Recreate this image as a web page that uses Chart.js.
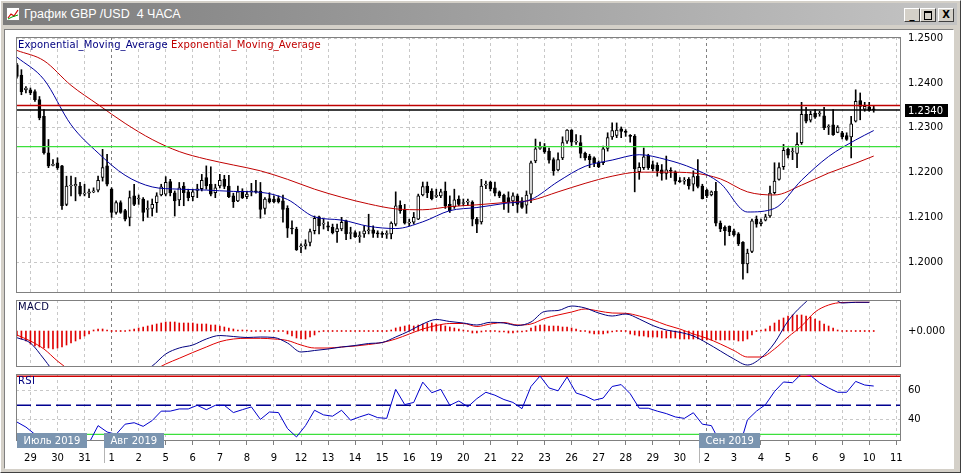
<!DOCTYPE html>
<html>
<head>
<meta charset="utf-8">
<script src="https://cdn.jsdelivr.net/npm/chart.js@4.4.1/dist/chart.umd.min.js"></script>
<style>
  html, body { margin: 0; padding: 0; }
  body { width: 961px; height: 473px; background: #d4d0c8; position: relative; overflow: hidden; font-family: "DejaVu Sans", sans-serif; }
  #win { position: absolute; left: 0; top: 0; width: 959px; height: 471px; border: 1px solid; border-color: #fff #404040 #404040 #fff; }
  #titlebar { position: absolute; left: 3px; top: 3px; width: 954px; height: 22px; background: linear-gradient(to right, #7c7c7c, #c4c4c4); }
  #icon { position: absolute; left: 3px; top: 4px; width: 14px; height: 14px; }
  #ttl { position: absolute; left: 21px; top: 4px; color: #fff; font: 12.5px "Liberation Sans Narrow", "Liberation Sans", sans-serif; line-height: 15px; white-space: pre; }
  .btn { position: absolute; top: 8px; width: 14px; height: 12px; background: #d4d0c8; border: 1px solid; border-color: #fff #404040 #404040 #fff; color: #000; font: bold 10px "DejaVu Sans", sans-serif; line-height: 12px; text-align: center; }
  #client { position: absolute; left: 4px; top: 29px; width: 948px; height: 438px; background: #fff; border: 1px solid; border-color: #808080 #fff #fff #808080; }
  canvas { position: absolute; }
  .lbl { position: absolute; font: 10px "DejaVu Sans", sans-serif; line-height: 12px; white-space: pre; }
</style>
</head>
<body>
<div id="win"></div>
<div id="titlebar">
  <svg id="icon" viewBox="0 0 14 14"><rect x="0.5" y="0.5" width="13" height="13" fill="#fff" stroke="#808080"/><polyline points="2,11 5,7 8,9 12,3" fill="none" stroke="#d00000" stroke-width="1.2"/><polyline points="2,12 6,10 12,8" fill="none" stroke="#00a000"/></svg>
  <span id="ttl">График GBP /USD  4 ЧАСА</span>
</div>
<div class="btn" style="left:904px">_</div>
<div class="btn" style="left:920px"><div style="position:absolute;left:3px;top:2px;width:6px;height:6px;border:1px solid #000;border-top-width:2px"></div></div>
<div class="btn" style="left:938px">X</div>
<div id="client"></div>

<canvas id="mainChart" width="947" height="266" style="left:10px;top:31px"></canvas>
<canvas id="macdChart" width="947" height="75" style="left:10px;top:296px"></canvas>
<canvas id="rsiChart" width="947" height="97" style="left:10px;top:371px"></canvas>

<div class="lbl" style="left:18px;top:39px;letter-spacing:0.13px"><span style="color:#000080">Exponential_Moving_Average</span> <span style="color:#c00000">Exponential_Moving_Average</span></div>
<div class="lbl" style="left:18px;top:301px;color:#000040;letter-spacing:0.3px">MACD</div>
<div class="lbl" style="left:18px;top:375px;color:#000080;letter-spacing:0.3px">RSI</div>

<script>
// 4-hour bars, index 0 = last bars of Jul 26, index 3 = Jul 29 00:00
const dayLabels = ['29','30','31','1','2','5','6','7','8','9','12','13','14','15','16','19','20','21','22','23','26','27','28','29','30','2','3','4','5','6','9','10','11'];
const dayStarts = [3,9,15,21,27,33,39,45,51,57,63,69,75,81,87,93,99,105,111,117,123,129,135,141,147,153,159,165,171,177,183,189,195];
const monthStarts = [21, 153];
const xMin = -0.2, xMax = 196.05;
const monthLabels = ['Июль 2019', 'Авг 2019', 'Сен 2019'];
const monthBars = [xMin, 21, 153];

const opens = [
  1.2441,1.2418,1.2385,1.2385,1.2381,1.2363,1.2326,1.2244,1.2216,1.2222,
  1.2215,1.2129,1.2170,1.2170,1.2170,1.2152,1.2154,1.2157,1.2161,1.2189,
  1.2215,1.2163,1.2111,1.2133,1.2115,1.2100,1.2148,1.2141,1.2141,1.2118,
  1.2120,1.2133,1.2150,1.2152,1.2180,1.2155,1.2139,1.2170,1.2157,1.2146,
  1.2160,1.2164,1.2189,1.2174,1.2155,1.2170,1.2185,1.2170,1.2148,1.2137,
  1.2159,1.2146,1.2157,1.2159,1.2159,1.2120,1.2142,1.2141,1.2142,1.2137,
  1.2120,1.2076,1.2074,1.2034,1.2036,1.2044,1.2070,1.2101,1.2085,1.2081,
  1.2078,1.2068,1.2074,1.2092,1.2064,1.2066,1.2057,1.2063,1.2070,1.2072,
  1.2064,1.2063,1.2062,1.2063,1.2085,1.2127,1.2117,1.2087,1.2089,1.2096,
  1.2150,1.2170,1.2159,1.2147,1.2148,1.2159,1.2129,1.2124,1.2141,1.2131,
  1.2134,1.2134,1.2096,1.2090,1.2172,1.2178,1.2166,1.2157,1.2150,1.2144,
  1.2137,1.2148,1.2137,1.2127,1.2152,1.2226,1.2254,1.2259,1.2248,1.2229,
  1.2206,1.2233,1.2270,1.2295,1.2268,1.2267,1.2243,1.2237,1.2233,1.2222,
  1.2222,1.2254,1.2280,1.2283,1.2298,1.2292,1.2283,1.2281,1.2202,1.2211,
  1.2238,1.2218,1.2216,1.2206,1.2198,1.2205,1.2202,1.2181,1.2181,1.2185,
  1.2174,1.2192,1.2170,1.2161,1.2150,1.2158,1.2087,1.2078,1.2080,1.2070,
  1.2063,1.2044,1.1996,1.2024,1.2096,1.2086,1.2094,1.2103,1.2155,1.2185,
  1.2213,1.2252,1.2246,1.2243,1.2267,1.2330,1.2317,1.2333,1.2331,1.2327,
  1.2302,1.2307,1.2290,1.2289,1.2283,1.2280,1.2315,1.2361,1.2342,1.2347,
  1.2341
];
const highs = [
  1.2444,1.2430,1.2392,1.2389,1.2385,1.2370,1.2341,1.2274,1.2229,1.2233,
  1.2216,1.2192,1.2192,1.2189,1.2178,1.2174,1.2163,1.2166,1.2192,1.2252,
  1.2241,1.2166,1.2137,1.2137,1.2118,1.2159,1.2174,1.2150,1.2144,1.2137,
  1.2141,1.2155,1.2174,1.2191,1.2185,1.2159,1.2178,1.2178,1.2163,1.2163,
  1.2174,1.2196,1.2215,1.2213,1.2174,1.2196,1.2194,1.2194,1.2154,1.2170,
  1.2164,1.2159,1.2176,1.2183,1.2178,1.2144,1.2155,1.2148,1.2148,1.2150,
  1.2126,1.2092,1.2078,1.2041,1.2050,1.2074,1.2103,1.2103,1.2096,1.2090,
  1.2085,1.2085,1.2100,1.2094,1.2078,1.2070,1.2068,1.2081,1.2107,1.2081,
  1.2070,1.2068,1.2070,1.2090,1.2157,1.2137,1.2129,1.2096,1.2111,1.2152,
  1.2179,1.2179,1.2164,1.2163,1.2163,1.2179,1.2148,1.2163,1.2148,1.2141,
  1.2141,1.2137,1.2100,1.2185,1.2181,1.2181,1.2179,1.2159,1.2152,1.2157,
  1.2155,1.2152,1.2144,1.2159,1.2226,1.2275,1.2268,1.2265,1.2255,1.2233,
  1.2244,1.2280,1.2296,1.2296,1.2285,1.2283,1.2246,1.2241,1.2235,1.2226,
  1.2259,1.2289,1.2311,1.2311,1.2302,1.2296,1.2285,1.2285,1.2222,1.2255,
  1.2241,1.2226,1.2222,1.2218,1.2237,1.2211,1.2204,1.2189,1.2189,1.2189,
  1.2204,1.2229,1.2174,1.2163,1.2159,1.2178,1.2092,1.2081,1.2081,1.2074,
  1.2066,1.2046,1.2029,1.2096,1.2103,1.2096,1.2107,1.2170,1.2222,1.2222,
  1.2263,1.2255,1.2255,1.2289,1.2357,1.2346,1.2337,1.2341,1.2337,1.2346,
  1.2307,1.2341,1.2305,1.2292,1.2289,1.2326,1.2385,1.2378,1.2357,1.2357,
  1.2349
];
const lows = [
  1.2411,1.2374,1.2378,1.2374,1.2359,1.2318,1.2241,1.2211,1.2215,1.2207,
  1.2118,1.2126,1.2148,1.2137,1.2148,1.2148,1.2144,1.2155,1.2157,1.2181,
  1.2170,1.2100,1.2107,1.2109,1.2092,1.2081,1.2126,1.2129,1.2092,1.2100,
  1.2103,1.2111,1.2148,1.2148,1.2148,1.2103,1.2126,1.2126,1.2137,1.2137,
  1.2144,1.2159,1.2163,1.2148,1.2144,1.2166,1.2164,1.2144,1.2122,1.2135,
  1.2142,1.2142,1.2148,1.2154,1.2098,1.2107,1.2132,1.2132,1.2132,1.2089,
  1.2055,1.2063,1.2026,1.2021,1.2029,1.2036,1.2063,1.2063,1.2074,1.2070,
  1.2063,1.2044,1.2070,1.2050,1.2052,1.2055,1.2044,1.2055,1.2063,1.2055,
  1.2055,1.2055,1.2053,1.2052,1.2081,1.2109,1.2085,1.2081,1.2085,1.2095,
  1.2148,1.2144,1.2139,1.2144,1.2144,1.2120,1.2111,1.2120,1.2126,1.2126,
  1.2127,1.2081,1.2066,1.2085,1.2164,1.2159,1.2148,1.2144,1.2118,1.2111,
  1.2126,1.2111,1.2120,1.2109,1.2133,1.2222,1.2252,1.2243,1.2221,1.2194,
  1.2204,1.2229,1.2265,1.2259,1.2263,1.2233,1.2228,1.2211,1.2213,1.2211,
  1.2218,1.2248,1.2274,1.2278,1.2278,1.2281,1.2268,1.2157,1.2185,1.2207,
  1.2207,1.2204,1.2192,1.2183,1.2185,1.2189,1.2174,1.2178,1.2174,1.2163,
  1.2159,1.2166,1.2141,1.2144,1.2148,1.2081,1.2068,1.2038,1.2059,1.2058,
  1.2037,1.1962,1.1976,1.2021,1.2078,1.2081,1.2092,1.2100,1.2152,1.2183,
  1.2207,1.2233,1.2229,1.2211,1.2263,1.2311,1.2313,1.2321,1.2326,1.2296,
  1.2285,1.2283,1.2289,1.2275,1.2272,1.2233,1.2313,1.2318,1.2337,1.2337,
  1.2335
];
const closes = [
  1.2415,1.2381,1.2389,1.2378,1.2363,1.2322,1.2244,1.2215,1.2218,1.2211,
  1.2126,1.2170,1.2172,1.2174,1.2152,1.2154,1.2157,1.2159,1.2183,1.2211,
  1.2174,1.2111,1.2133,1.2111,1.2096,1.2144,1.2129,1.2143,1.2111,1.2120,
  1.2129,1.2148,1.2168,1.2178,1.2155,1.2137,1.2166,1.2155,1.2144,1.2157,
  1.2164,1.2183,1.2170,1.2152,1.2166,1.2183,1.2169,1.2146,1.2135,1.2157,
  1.2144,1.2152,1.2159,1.2157,1.2118,1.2141,1.2135,1.2135,1.2135,1.2118,
  1.2076,1.2074,1.2028,1.2036,1.2041,1.2068,1.2098,1.2081,1.2087,1.2078,
  1.2066,1.2075,1.2089,1.2063,1.2066,1.2057,1.2058,1.2070,1.2072,1.2064,
  1.2063,1.2062,1.2063,1.2087,1.2126,1.2115,1.2087,1.2088,1.2100,1.2148,
  1.2169,1.2155,1.2142,1.2149,1.2157,1.2126,1.2115,1.2139,1.2129,1.2133,
  1.2136,1.2096,1.2085,1.2170,1.2174,1.2164,1.2154,1.2148,1.2135,1.2135,
  1.2148,1.2129,1.2122,1.2150,1.2222,1.2253,1.2256,1.2246,1.2228,1.2204,
  1.2229,1.2267,1.2295,1.2268,1.2270,1.2243,1.2233,1.2229,1.2222,1.2213,
  1.2253,1.2278,1.2294,1.2295,1.2292,1.2290,1.2281,1.2208,1.2212,1.2235,
  1.2211,1.2209,1.2204,1.2198,1.2206,1.2203,1.2181,1.2180,1.2183,1.2170,
  1.2191,1.2169,1.2142,1.2148,1.2157,1.2087,1.2074,1.2070,1.2068,1.2061,
  1.2041,1.1996,1.2020,1.2092,1.2085,1.2090,1.2101,1.2154,1.2181,1.2211,
  1.2250,1.2239,1.2248,1.2263,1.2330,1.2315,1.2330,1.2324,1.2332,1.2300,
  1.2304,1.2285,1.2302,1.2280,1.2274,1.2309,1.2359,1.2348,1.2348,1.2339,
  1.2340
];

// moving averages read every 6 bars
const emaIdx  = [0,6,12,18,24,30,36,42,48,54,60,66,72,78,84,90,96,102,108,114,120,126,132,138,144,150,156,162,168,174,180,186,190];
const emaFast = [1.2458,1.2408,1.2307,1.2244,1.2194,1.2168,1.2163,1.2161,1.2158,1.2156,1.2140,1.2101,1.2094,1.2080,1.2075,1.2090,1.2115,1.2122,1.2131,1.2140,1.2180,1.2214,1.2228,1.2240,1.2229,1.2209,1.2176,1.2112,1.2120,1.2183,1.2236,1.2273,1.2294];
const emaSlow = [1.2473,1.2450,1.2395,1.2352,1.2310,1.2274,1.2247,1.2230,1.2217,1.2204,1.2185,1.2163,1.2145,1.2130,1.2119,1.2117,1.2124,1.2128,1.2133,1.2138,1.2157,1.2176,1.2192,1.2201,1.2201,1.2199,1.2186,1.2157,1.2150,1.2172,1.2199,1.2221,1.2237];

const priceTicks = [1.20, 1.21, 1.22, 1.23, 1.24, 1.25];
const resistance = 1.2350;
const support = 1.2258;
const lastPrice = closes[closes.length - 1];

// MACD in units of 0.0001, lines read every 3 bars
const macdIdx = [];
for (let i = 0; i <= 189; i += 3) macdIdx.push(i);
const macdMain = [-6.7,-12,-28,-45,-52,-55,-55,-52,-48,-42,-35,-23,-17,-14,-8,-4.5,-5.5,-6.5,-6,-6.5,-12,-21,-19.5,-18,-16,-14.5,-12.5,-11.5,-6,0,7,11.5,9.5,8,6,8.7,8,5.5,9,19.5,20.5,25,23,18,15,17,12,5.5,1,-1.3,-5,-12,-20,-28,-34,-27,-12,10,25,35,36,28,28.7,28.7];
const macdSignal = [-4,-10,-18,-30,-40,-47,-50,-50,-48,-45,-40,-33,-27.3,-21.5,-16,-10.7,-8,-7.3,-7.3,-8,-9.5,-14,-17,-17,-16,-15,-13.5,-11.5,-8,-3,2,5.5,7.5,7.5,4.5,7,8.5,6,7,12.5,16,19,22,20,18,17.7,15,11,6,2,-3,-7.3,-13,-19.5,-26,-26,-18,-6,5,19,26,28.5,28.7,28.7];
const macdHist = [
  -5,-8,-10,-13,-15,-16,-17,-17,-18,-17,-16,-14,-12,-10,-8,-5,-3,
  1,2,2,1,0,0,0,0,1,2,3,4,5,6,7,8,
  9,9,9,8,8,8,8,7,7,7,6,6,5,4,
  3,2,1,1,1,0,
  0,0,0,0,0,0,0,
  -3,-5,-7,-8,-8,-6,-4,-1,
  0,0,0,0,0,0,0,0,0,0,0,0,0,0,0,1,
  3,4,5,6,5,6,7,8,
  8,7,6,5,4,3,2,
  1,0,-2,-2,-1,0,
  0,0,-1,-1,-2,-2,-1,-1,0,
  3,5,6,6,5,5,5,4,4,3,2,
  0,0,
  -2,-3,-3,-3,-2,-1,
  0,0,0,
  -3,-4,-5,-5,-6,-6,-6,-7,-7,-7,-7,-8,-8,-8,-8,-8,-9,-9,-9,-9,-9,-9,-9,-9,-10,-10,-8,-4,
  0,1,2,
  5,8,11,13,15,16,16,16,15,14,12,10,7,5,3,1,
  0,0,0,0,0,0,0,0
];

// RSI read every 2 bars
const rsiIdx = [];
for (let i = 0; i <= 190; i += 2) rsiIdx.push(i);
const rsiValues = [38.5,35,30,24,21,19,20,22,24,36,31.6,30,37,38,35.5,39.5,46,46,47.5,47.5,50,47,50,50,45,47,48.9,40.3,45.4,45,34,28.2,36,46.6,43.4,42.5,46.6,39.7,42,44,41.5,41,61,50.5,52,66,58.7,61,50,53,49,54.6,59,57,54,52,47.7,63,70.2,62,60,69.5,58.5,56.5,53.5,55,63,64.3,58,48,48,46,44.3,42,41,44.9,37,36,24,20,19,40,46,50.5,59.5,66.1,65.6,71.8,70.5,65.5,62,59,59,66.5,64,63.3];
const rsiTicks = [40, 60];

Chart.defaults.font.family = '"DejaVu Sans", sans-serif';
Chart.defaults.font.size = 10;
Chart.defaults.color = '#000';
Chart.defaults.animation = false;

const bars = opens.map((_, i) => i);
const pts = (xs, ys) => xs.map((x, k) => ({ x, y: ys[k] }));
const flat = v => [{ x: xMin, y: v }, { x: xMax, y: v }];

function xAxis(showLabels) {
  return {
    type: 'linear', min: xMin, max: xMax, offset: false,
    afterBuildTicks: s => { s.ticks = dayStarts.map(v => ({ value: v })); },
    grid: {
      offset: false,
      color: c => (c.tick && monthStarts.includes(c.tick.value)) ? '#808080' : '#c8c8c8',
      drawTicks: showLabels, tickLength: 4, tickColor: '#808080'
    },
    border: { display: false, dash: [3, 3] },
    ticks: { display: showLabels, autoSkip: false, maxRotation: 0, padding: 7, callback: (v, i) => dayLabels[i] },
    afterFit: s => { s.height = showLabels ? 23 : 0; s.paddingLeft = 0; s.paddingRight = 0; }
  };
}

function yAxis(min, max, ticks, fmt, showGrid) {
  return {
    position: 'right', min, max,
    afterBuildTicks: s => { s.ticks = ticks.map(v => ({ value: v })); },
    ticks: { padding: 7, callback: fmt },
    grid: { display: showGrid, color: '#c8c8c8', drawTicks: false },
    border: { display: false, dash: [3, 3] },
    afterFit: s => { s.width = 56; s.paddingTop = 0; s.paddingBottom = 0; }
  };
}

const framePlugin = {
  id: 'frame',
  afterDraw(chart) {
    const { ctx, chartArea: a } = chart;
    ctx.save();
    ctx.strokeStyle = '#808080';
    ctx.lineWidth = 1;
    ctx.strokeRect(Math.round(a.left) + 0.5, Math.round(a.top) + 0.5, Math.round(a.width) - 1, Math.round(a.height) - 1);
    ctx.restore();
  }
};

const baseOptions = (padding) => ({
  responsive: false,
  maintainAspectRatio: false,
  layout: { padding },
  plugins: { legend: { display: false }, tooltip: { enabled: false } }
});

// main price panel
new Chart(document.getElementById('mainChart'), {
  type: 'bar',
  data: {
    datasets: [
      { type: 'bar', data: bars.map(i => ({ x: i, y: [lows[i], highs[i]] })), backgroundColor: '#000', barThickness: 1, grouped: false, order: 5 },
      { type: 'bar', data: bars.map(i => ({ x: i, y: [opens[i], closes[i]] })),
        backgroundColor: bars.map(i => closes[i] >= opens[i] ? '#fff' : '#000'),
        borderColor: '#000', borderWidth: 1, borderSkipped: false, barThickness: 3, minBarLength: 1, grouped: false, order: 4 },
      { type: 'line', data: pts(emaIdx, emaSlow), borderColor: '#c00000', borderWidth: 1, pointRadius: 0, cubicInterpolationMode: 'monotone', order: 3 },
      { type: 'line', data: pts(emaIdx, emaFast), borderColor: '#0000a0', borderWidth: 1, pointRadius: 0, cubicInterpolationMode: 'monotone', order: 2 },
      { type: 'line', data: flat(resistance), borderColor: '#c00000', borderWidth: 1.4, pointRadius: 0, order: 1 },
      { type: 'line', data: flat(lastPrice), borderColor: '#000', borderWidth: 1.4, pointRadius: 0, order: 1 },
      { type: 'line', data: flat(support), borderColor: '#3ce03c', borderWidth: 1.4, pointRadius: 0, order: 1 }
    ]
  },
  options: Object.assign(baseOptions({ left: 6, top: 6, right: 0, bottom: 4 }), {
    scales: { x: xAxis(false), y: yAxis(1.1931, 1.2503, priceTicks, v => v.toFixed(4), true) }
  }),
  plugins: [framePlugin, {
    id: 'priceTag',
    afterDraw(chart) {
      const { ctx, chartArea: a } = chart;
      const y = Math.round(chart.scales.y.getPixelForValue(lastPrice));
      ctx.save();
      ctx.fillStyle = '#000';
      ctx.fillRect(a.right + 4, y - 6, 43, 13);
      ctx.fillStyle = '#fff';
      ctx.font = '10px "DejaVu Sans", sans-serif';
      ctx.textBaseline = 'middle';
      ctx.fillText(lastPrice.toFixed(4), a.right + 7, y + 1);
      ctx.restore();
    }
  }]
});

// MACD panel
new Chart(document.getElementById('macdChart'), {
  type: 'bar',
  data: {
    datasets: [
      { type: 'bar', data: macdHist.map((v, i) => ({ x: i, y: v })), backgroundColor: '#e00000', barThickness: 1, minBarLength: 1, grouped: false, order: 3 },
      { type: 'line', data: pts(macdIdx, macdSignal), borderColor: '#e00000', borderWidth: 1, pointRadius: 0, cubicInterpolationMode: 'monotone', order: 2 },
      { type: 'line', data: pts(macdIdx, macdMain), borderColor: '#000080', borderWidth: 1, pointRadius: 0, cubicInterpolationMode: 'monotone', order: 1 }
    ]
  },
  options: Object.assign(baseOptions({ left: 6, top: 4, right: 0, bottom: 4 }), {
    scales: { x: xAxis(false), y: yAxis(-36, 31, [0], v => '+' + (v / 10000).toFixed(3), false) }
  }),
  plugins: [framePlugin]
});

// RSI panel
new Chart(document.getElementById('rsiChart'), {
  type: 'line',
  data: {
    datasets: [
      { data: flat(70), borderColor: '#d00000', borderWidth: 1.4, pointRadius: 0, order: 3 },
      { data: flat(30), borderColor: '#3ce03c', borderWidth: 1.4, pointRadius: 0, order: 3 },
      { data: flat(50), borderColor: '#000090', borderWidth: 1.4, borderDash: [15, 5], pointRadius: 0, order: 2 },
      { data: pts(rsiIdx, rsiValues), borderColor: '#0000cc', borderWidth: 1, pointRadius: 0, order: 1,
        segment: { borderColor: c => {
          const a = c.p0.parsed.y, b = c.p1.parsed.y;
          return (a < 30 && b < 30) ? '#20c020' : ((a > 70 && b > 70) ? '#ff00ff' : '#0000cc');
        } } }
    ]
  },
  options: Object.assign(baseOptions({ left: 6, top: 3, right: 0, bottom: 4 }), {
    scales: { x: xAxis(true), y: yAxis(25.4, 71.6, rsiTicks, v => String(v), true) }
  }),
  plugins: [framePlugin, {
    id: 'monthTags',
    afterDraw(chart) {
      const { ctx, chartArea: a } = chart;
      const xs = chart.scales.x;
      ctx.save();
      ctx.font = '10px "DejaVu Sans", sans-serif';
      ctx.textBaseline = 'middle';
      monthLabels.forEach((t, k) => {
        let left = Math.round(xs.getPixelForValue(monthBars[k])) - 8;
        if (left < a.left + 1) left = Math.round(a.left) + 1;
        const w = Math.round(ctx.measureText(t).width) + 13;
        if (k > 0) {
          ctx.fillStyle = '#b4b4b4';
          ctx.fillRect(left, Math.round(a.bottom), 1, 22);
        }
        ctx.fillStyle = '#7b95b0';
        ctx.fillRect(left, Math.round(a.bottom) - 8, w, 15);
        ctx.fillStyle = '#fff';
        ctx.fillText(t, left + 6.5, Math.round(a.bottom));
      });
      ctx.restore();
    }
  }]
});
</script>
</body>
</html>
